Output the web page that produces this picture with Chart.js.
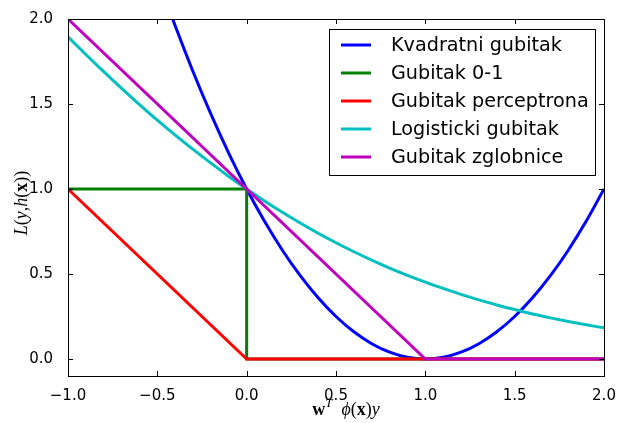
<!DOCTYPE html>
<html>
<head>
<meta charset="utf-8">
<script src="https://cdn.jsdelivr.net/npm/chart.js@4"></script>
<style>
  html, body { margin: 0; padding: 0; background: #fff; }
  #wrap { width: 619px; height: 423px; }
</style>
</head>
<body>
<div id="wrap"><canvas id="chart" width="619" height="423"></canvas></div>
<script>
// x positions for the smooth curves
const xs = [-1.0, -0.9, -0.8, -0.7, -0.6, -0.5, -0.4, -0.3, -0.2, -0.1, 0.0,
  0.1, 0.2, 0.3, 0.4, 0.5, 0.6, 0.7, 0.8, 0.9, 1.0,
  1.1, 1.2, 1.3, 1.4, 1.5, 1.6, 1.7, 1.8, 1.9, 2.0];

const kvadratni = [4.0, 3.61, 3.24, 2.89, 2.56, 2.25, 1.96, 1.69, 1.44, 1.21, 1.0,
  0.81, 0.64, 0.49, 0.36, 0.25, 0.16, 0.09, 0.04, 0.01, 0.0,
  0.01, 0.04, 0.09, 0.16, 0.25, 0.36, 0.49, 0.64, 0.81, 1.0];

const logisticki = [1.895, 1.791, 1.690, 1.592, 1.497, 1.405, 1.317, 1.233, 1.152, 1.074, 1.0,
  0.930, 0.863, 0.800, 0.740, 0.684, 0.631, 0.582, 0.535, 0.492, 0.452,
  0.415, 0.380, 0.348, 0.318, 0.291, 0.265, 0.242, 0.221, 0.201, 0.183];

const nulaJedanX = [-1.0, 0.0, 0.0, 2.0];
const nulaJedanY = [1.0, 1.0, 0.0, 0.0];

const perceptronX = [-1.0, 0.0, 2.0];
const perceptronY = [1.0, 0.0, 0.0];

const zglobniceX = [-1.0, 1.0, 2.0];
const zglobniceY = [2.0, 0.0, 0.0];

const labels = ["Kvadratni gubitak", "Gubitak 0-1", "Gubitak perceptrona",
  "Logisticki gubitak", "Gubitak zglobnice"];
const colors = ["#0000ff", "#008000", "#ff0000", "#00bfbf", "#bf00bf"];

const xTicks = [-1.0, -0.5, 0.0, 0.5, 1.0, 1.5, 2.0];
const yTicks = [0.0, 0.5, 1.0, 1.5, 2.0];

const pts = (a, b) => a.map((v, i) => ({ x: v, y: b[i] }));
const fmt = (v) => (v < 0 ? "\u2212" : "") + Math.abs(v).toFixed(1);

Chart.defaults.font.family = "DejaVu Sans";
Chart.defaults.color = "#000";

// draws a list of [text, font, dy] pieces in a row
function drawPieces(ctx, pieces, x, y) {
  let cx = x;
  pieces.forEach(([t, f, dy]) => {
    ctx.font = f;
    ctx.fillText(t, cx, y + (dy || 0));
    cx += ctx.measureText(t).width;
  });
}
function piecesWidth(ctx, pieces) {
  let w = 0;
  pieces.forEach(([t, f]) => { ctx.font = f; w += ctx.measureText(t).width; });
  return w;
}

const framePlugin = {
  id: "frame",
  afterDraw(chart) {
    const ctx = chart.ctx;
    const a = chart.chartArea;
    const sx = chart.scales.x, sy = chart.scales.y;
    ctx.save();
    ctx.strokeStyle = "#000";
    ctx.lineWidth = 1;
    // inward ticks on all four sides
    ctx.beginPath();
    xTicks.forEach(v => {
      const px = Math.round(sx.getPixelForValue(v)) + 0.5;
      ctx.moveTo(px, a.bottom); ctx.lineTo(px, a.bottom - 5);
      ctx.moveTo(px, a.top); ctx.lineTo(px, a.top + 5);
    });
    yTicks.forEach(v => {
      const py = Math.round(sy.getPixelForValue(v)) + 0.5;
      ctx.moveTo(a.left, py); ctx.lineTo(a.left + 5, py);
      ctx.moveTo(a.right, py); ctx.lineTo(a.right - 5, py);
    });
    ctx.stroke();
    ctx.strokeRect(Math.round(a.left) + 0.5, Math.round(a.top) + 0.5,
      Math.round(a.right - a.left), Math.round(a.bottom - a.top));

    // legend
    const lx = 329, ly = 29, lw = 266, lh = 146;
    ctx.fillStyle = "#fff";
    ctx.fillRect(lx, ly, lw, lh);
    ctx.strokeRect(lx + 0.5, ly + 0.5, lw, lh);
    ctx.font = "19.2px 'DejaVu Sans'";
    ctx.textBaseline = "middle";
    labels.forEach((lab, i) => {
      const yy = 45 + i * 28;
      ctx.strokeStyle = colors[i];
      ctx.lineWidth = 3;
      ctx.beginPath();
      ctx.moveTo(341, yy); ctx.lineTo(371, yy);
      ctx.stroke();
      ctx.fillStyle = "#000";
      ctx.fillText(lab, 391, yy + 1);
    });

    // axis titles
    const it = "italic 18px 'Liberation Serif'";
    const up = "18px 'Liberation Serif'";
    const bd = "bold 18px 'Liberation Serif'";
    ctx.fillStyle = "#000";
    ctx.textBaseline = "alphabetic";
    const xt = [["w", bd], ["T", "italic 13px 'Liberation Serif'", -8], ["  ", up],
      ["\u03d5", it], ["(", up], ["x", bd], [")", up], ["y", it]];
    const xw = piecesWidth(ctx, xt);
    drawPieces(ctx, xt, 346 - xw / 2, 415);

    const yt = [["L", it], ["(", up], ["y", it], [",", up], ["h", it],
      ["(", up], ["x", bd], [")", up], [")", up]];
    const yw = piecesWidth(ctx, yt);
    ctx.translate(27, 203);
    ctx.rotate(-Math.PI / 2);
    drawPieces(ctx, yt, -yw / 2, 0);
    ctx.restore();
  }
};

const curve = { cubicInterpolationMode: "monotone" };

new Chart(document.getElementById("chart"), {
  type: "line",
  data: {
    datasets: [
      Object.assign({ label: labels[0], data: pts(xs, kvadratni), borderColor: colors[0], order: 4 }, curve),
      { label: labels[1], data: pts(nulaJedanX, nulaJedanY), borderColor: colors[1], order: 3 },
      { label: labels[2], data: pts(perceptronX, perceptronY), borderColor: colors[2], order: 2 },
      Object.assign({ label: labels[3], data: pts(xs, logisticki), borderColor: colors[3], order: 1 }, curve),
      { label: labels[4], data: pts(zglobniceX, zglobniceY), borderColor: colors[4], order: 0 },
    ].map(d => Object.assign({ borderWidth: 3, pointRadius: 0, fill: false }, d)),
  },
  options: {
    responsive: false,
    animation: false,
    devicePixelRatio: 1,
    layout: { padding: { left: 0, top: 19, right: 15, bottom: 0 } },
    plugins: { legend: { display: false }, tooltip: { enabled: false } },
    scales: {
      x: {
        type: "linear",
        min: -1, max: 2,
        grid: { display: false },
        border: { display: false },
        afterBuildTicks: (s) => { s.ticks = xTicks.map(v => ({ value: v })); },
        afterFit: (s) => { s.height = 47; s.paddingLeft = 0; s.paddingRight = 0; },
        ticks: { font: { size: 15 }, padding: 3, maxRotation: 0, callback: fmt },
      },
      y: {
        min: -0.1, max: 2.0,
        grid: { display: false },
        border: { display: false },
        afterBuildTicks: (s) => { s.ticks = yTicks.map(v => ({ value: v })); },
        afterFit: (s) => { s.width = 68; s.paddingTop = 0; s.paddingBottom = 0; },
        ticks: { font: { size: 15 }, padding: 7, callback: fmt },
      },
    },
  },
  plugins: [framePlugin],
});
</script>
</body>
</html>
